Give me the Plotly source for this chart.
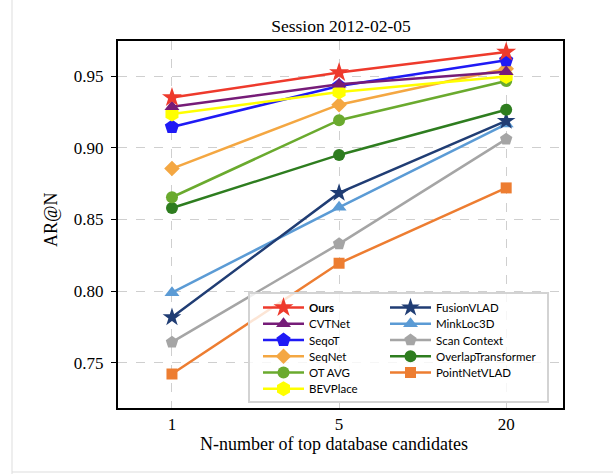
import plotly.graph_objects as go

# Top-N candidates on the x axis
candidates = ["1", "5", "20"]

# Average recall AR@N per method
ours = [0.935, 0.9525, 0.9667]
cvtnet = [0.9286, 0.9442, 0.9530]
seqot = [0.9145, 0.9430, 0.9610]
seqnet = [0.8855, 0.9300, 0.9550]
ot_avg = [0.8655, 0.9192, 0.9465]
bevplace = [0.9235, 0.9388, 0.9497]
fusionvlad = [0.7818, 0.8685, 0.9187]
minkloc3d = [0.7990, 0.8585, 0.9165]
scan_context = [0.7645, 0.8330, 0.9060]
overlap_transformer = [0.8580, 0.8950, 0.9265]
pointnetvlad = [0.7423, 0.8195, 0.8720]

y_ticks = [0.75, 0.80, 0.85, 0.90, 0.95]

# (name, values, colour, marker symbol, marker size, legend column, legend row)
methods = [
    ("PointNetVLAD", pointnetvlad, "#ED7D31", "square", 11, 1, 4),
    ("Scan Context", scan_context, "#A5A5A5", "pentagon", 13, 1, 2),
    ("MinkLoc3D", minkloc3d, "#5B9BD5", "triangle-up", 13, 1, 1),
    ("FusionVLAD", fusionvlad, "#203D74", "star", 14, 1, 0),
    ("OverlapTransformer", overlap_transformer, "#2E7D1F", "circle", 12, 1, 3),
    ("OT AVG", ot_avg, "#6AAA2E", "circle", 12, 0, 4),
    ("SeqNet", seqnet, "#F4A742", "diamond", 12, 0, 3),
    ("SeqoT", seqot, "#1F1AF5", "pentagon", 15, 0, 2),
    ("BEVPlace", bevplace, "#FFFF00", "hexagon", 15, 0, 5),
    ("CVTNet", cvtnet, "#761C78", "triangle-up", 13, 0, 1),
    ("<b>Ours</b>", ours, "#EE3A2C", "star", 15, 0, 0),
]

# Figure geometry in pixels
W, H = 613, 474
ML, MR, MT, MB = 118, 50, 41, 66
PW, PH = W - ML - MR, H - MT - MB


def px_x(x):
    return (x - ML) / PW


def px_y(y):
    return (H - MB - y) / PH


serif = "Liberation Serif, Times New Roman, serif"
legend_font = dict(family="Lato, Noto Sans, sans-serif", size=11.5, color="black")

# legend entry grid: two columns, rows 16.25 px apart
col_x = [258, 385]
row_y0, row_dy = 307.5, 16.25

fig = go.Figure()
legend_layouts = {}
for i, (name, vals, color, symbol, size, col, row) in enumerate(methods):
    key = "legend" if i == 0 else f"legend{i + 1}"
    fig.add_trace(go.Scatter(
        x=candidates, y=vals, name=name, mode="lines+markers",
        line=dict(color=color, width=2.5),
        marker=dict(symbol=symbol, size=size, color=color, line=dict(width=0)),
        legend=key,
    ))
    legend_layouts[key] = dict(
        x=px_x(col_x[col]), y=px_y(row_y0 + row * row_dy),
        xanchor="left", yanchor="middle",
        bgcolor="rgba(0,0,0,0)", borderwidth=0,
        font=legend_font, itemwidth=41,
    )

axis_common = dict(
    tickfont=dict(family=serif, size=17, color="black"),
    showline=True, linecolor="black", linewidth=2, mirror=True,
    tickcolor="black", tickwidth=1,
    showgrid=True, gridcolor="#CFCFCF", griddash="dash", gridwidth=1,
    zeroline=False,
)

fig.update_layout(
    width=W, height=H,
    margin=dict(l=ML, r=MR, t=MT, b=MB),
    paper_bgcolor="white", plot_bgcolor="white",
    showlegend=True,
    title=dict(text="Session 2012-02-05", x=341 / W, xanchor="center",
               y=1 - 26 / H, yanchor="middle",
               font=dict(family=serif, size=17.5, color="black")),
    font=dict(family=serif, color="black"),
    xaxis=dict(type="category", range=[-0.323, 2.34], ticks="", **axis_common),
    yaxis=dict(range=[0.7186, 0.9744], tickvals=y_ticks, ticktext=[f"{v:.2f}" for v in y_ticks],
               ticks="outside", ticklen=5, ticklabelstandoff=4, **axis_common),
    annotations=[
        dict(text="N-number of top database candidates", xref="paper", yref="paper",
             x=px_x(334), y=px_y(444), xanchor="center", yanchor="middle", showarrow=False,
             font=dict(family=serif, size=18, color="black")),
        dict(text="AR@N", xref="paper", yref="paper", textangle=-90,
             x=px_x(51), y=px_y(220), xanchor="center", yanchor="middle", showarrow=False,
             font=dict(family=serif, size=18, color="black")),
    ],
    shapes=[
        # legend frame, translucent so the lines behind stay faintly visible
        dict(type="rect", xref="paper", yref="paper", layer="above",
             x0=px_x(249), x1=px_x(548), y0=px_y(402), y1=px_y(293),
             fillcolor="rgba(255,255,255,0.8)", line=dict(color="#D3D3D3", width=2)),
        # page edges
        dict(type="line", xref="paper", yref="paper", x0=px_x(12), x1=px_x(12),
             y0=px_y(H), y1=px_y(0), line=dict(color="#DDDDDD", width=1)),
        dict(type="line", xref="paper", yref="paper", x0=px_x(12), x1=px_x(W),
             y0=px_y(472), y1=px_y(472), line=dict(color="#DDDDDD", width=1)),
    ],
    **legend_layouts,
)

fig.write_html("out.html")
